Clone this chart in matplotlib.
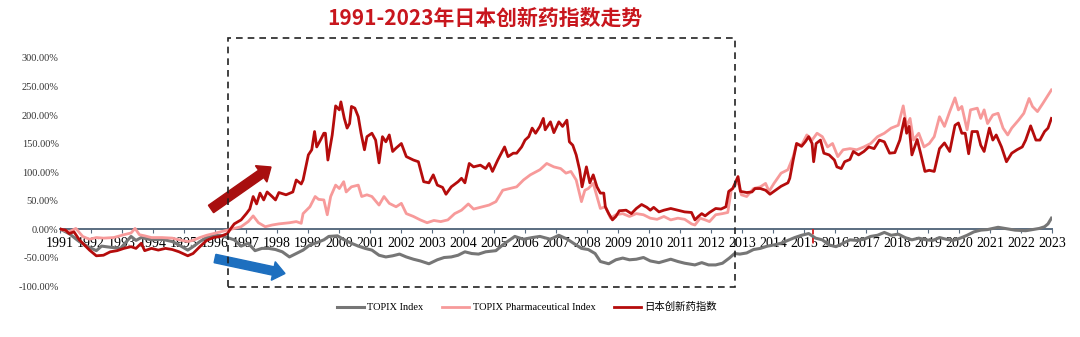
import numpy as np
import matplotlib
matplotlib.use("Agg")
import matplotlib.pyplot as plt
from matplotlib.patches import Rectangle, FancyArrow

plt.rcParams['font.family'] = ['Liberation Serif', 'Noto Sans CJK SC']

# 日本创新药指数 (累计涨跌幅, %)
drug_t = [1991.00, 1991.18, 1991.29, 1991.45, 1991.62, 1991.95, 1992.17, 1992.40, 1992.62, 1992.84,
          1993.06, 1993.29, 1993.45, 1993.62, 1993.73, 1993.95, 1994.17, 1994.40, 1994.62, 1994.84,
          1995.12, 1995.29, 1995.51, 1995.73, 1995.95, 1996.17, 1996.40, 1996.51, 1996.62, 1996.84,
          1997.01, 1997.12, 1997.23, 1997.34, 1997.45, 1997.57, 1997.68, 1997.84, 1997.95, 1998.06,
          1998.29, 1998.51, 1998.62, 1998.78, 1998.84, 1999.01, 1999.12, 1999.21, 1999.28, 1999.40,
          1999.51, 1999.56, 1999.64, 1999.78, 1999.89, 2000.01, 2000.06, 2000.17, 2000.26, 2000.34,
          2000.40, 2000.51, 2000.62, 2000.71, 2000.82, 2000.90, 2001.06, 2001.18, 2001.29, 2001.40,
          2001.51, 2001.62, 2001.73, 2001.84, 2002.01, 2002.17, 2002.40, 2002.56, 2002.73, 2002.90,
          2003.04, 2003.17, 2003.34, 2003.45, 2003.62, 2003.84, 2003.95, 2004.06, 2004.20, 2004.34,
          2004.56, 2004.73, 2004.84, 2004.95, 2005.12, 2005.34, 2005.45, 2005.62, 2005.73, 2005.89,
          2006.00, 2006.12, 2006.23, 2006.34, 2006.48, 2006.59, 2006.65, 2006.82, 2006.93, 2007.09,
          2007.21, 2007.35, 2007.43, 2007.54, 2007.65, 2007.76, 2007.84, 2007.98, 2008.09, 2008.20,
          2008.32, 2008.43, 2008.54, 2008.59, 2008.70, 2008.82, 2008.93, 2009.04, 2009.26, 2009.43,
          2009.59, 2009.76, 2009.93, 2010.04, 2010.15, 2010.32, 2010.48, 2010.70, 2010.93, 2011.15,
          2011.37, 2011.48, 2011.59, 2011.70, 2011.81, 2011.95, 2012.15, 2012.32, 2012.48, 2012.57,
          2012.70, 2012.87, 2012.95, 2013.15, 2013.32, 2013.42, 2013.59, 2013.76, 2013.90, 2014.03,
          2014.26, 2014.48, 2014.54, 2014.65, 2014.76, 2014.92, 2015.04, 2015.15, 2015.26, 2015.31,
          2015.39, 2015.53, 2015.64, 2015.81, 2015.98, 2016.06, 2016.20, 2016.31, 2016.48, 2016.59,
          2016.76, 2016.93, 2017.09, 2017.26, 2017.43, 2017.59, 2017.76, 2017.93, 2018.09, 2018.24,
          2018.31, 2018.39, 2018.48, 2018.65, 2018.76, 2018.90, 2019.04, 2019.20, 2019.37, 2019.53,
          2019.70, 2019.87, 2019.98, 2020.09, 2020.20, 2020.31, 2020.42, 2020.59, 2020.70, 2020.81,
          2020.98, 2021.09, 2021.20, 2021.37, 2021.53, 2021.70, 2021.87, 2022.04, 2022.15, 2022.31,
          2022.48, 2022.61, 2022.76, 2022.87, 2022.98]
drug_v = [0, -2, -8, -5, -19, -37, -47, -46, -40, -38,
          -34, -31, -34, -25, -38, -34, -37, -34, -36, -40,
          -47, -43, -31, -20, -15, -13, -8, 1, 9, 16,
          27, 35, 57, 44, 63, 51, 65, 57, 51, 64,
          60, 65, 86, 79, 86, 130, 139, 171, 144, 156,
          168, 168, 121, 165, 216, 209, 223, 194, 177, 185,
          215, 212, 197, 168, 139, 162, 168, 156, 116, 162,
          153, 165, 136, 142, 150, 127, 121, 118, 83, 81,
          95, 77, 73, 61, 74, 83, 89, 81, 115, 109,
          112, 106, 115, 101, 121, 144, 127, 133, 133, 144,
          156, 162, 177, 168, 180, 194, 174, 188, 169, 188,
          180, 191, 153, 147, 130, 104, 74, 109, 81, 95,
          74, 63, 63, 39, 27, 16, 22, 32, 33, 27,
          36, 43, 38, 33, 38, 30, 33, 36, 33, 30,
          29, 16, 22, 27, 23, 29, 36, 35, 39, 66,
          71, 92, 66, 64, 65, 71, 71, 68, 61, 66,
          75, 81, 89, 121, 150, 145, 153, 162, 150, 118,
          150, 156, 133, 130, 121, 109, 106, 118, 122, 136,
          130, 136, 144, 141, 156, 153, 133, 134, 156, 194,
          168, 180, 130, 157, 133, 101, 103, 101, 141, 151,
          136, 182, 186, 168, 168, 132, 171, 171, 147, 136,
          177, 156, 165, 144, 118, 133, 139, 144, 156, 181,
          156, 156, 171, 177, 194]

# TOPIX Pharmaceutical Index
pharma_t = [1991.00, 1991.29, 1991.51, 1991.73, 1991.95, 1992.17, 1992.40, 1992.73, 1993.06, 1993.29,
            1993.42, 1993.56, 1993.73, 1993.95, 1994.29, 1994.62, 1994.84, 1995.12, 1995.29, 1995.51,
            1995.73, 1995.95, 1996.17, 1996.40, 1996.62, 1996.84, 1997.07, 1997.23, 1997.40, 1997.62,
            1997.84, 1998.06, 1998.40, 1998.62, 1998.78, 1998.84, 1999.06, 1999.23, 1999.34, 1999.51,
            1999.62, 1999.73, 1999.89, 2000.01, 2000.15, 2000.23, 2000.40, 2000.62, 2000.73, 2000.90,
            2001.06, 2001.29, 2001.45, 2001.62, 2001.84, 2002.01, 2002.17, 2002.40, 2002.62, 2002.84,
            2003.06, 2003.28, 2003.51, 2003.73, 2003.95, 2004.17, 2004.34, 2004.62, 2004.84, 2005.06,
            2005.28, 2005.51, 2005.73, 2005.95, 2006.17, 2006.48, 2006.70, 2006.93, 2007.15, 2007.32,
            2007.48, 2007.65, 2007.82, 2007.93, 2008.04, 2008.20, 2008.32, 2008.43, 2008.59, 2008.76,
            2008.93, 2009.15, 2009.37, 2009.59, 2009.82, 2010.04, 2010.26, 2010.48, 2010.70, 2010.93,
            2011.15, 2011.37, 2011.48, 2011.65, 2011.81, 2011.95, 2012.15, 2012.37, 2012.54, 2012.65,
            2012.87, 2012.98, 2013.15, 2013.37, 2013.59, 2013.76, 2013.87, 2014.03, 2014.26, 2014.48,
            2014.65, 2014.76, 2014.92, 2015.09, 2015.26, 2015.42, 2015.59, 2015.76, 2015.92, 2016.09,
            2016.26, 2016.48, 2016.70, 2016.93, 2017.15, 2017.37, 2017.59, 2017.81, 2018.04, 2018.20,
            2018.31, 2018.42, 2018.53, 2018.70, 2018.87, 2019.04, 2019.20, 2019.37, 2019.53, 2019.70,
            2019.87, 2019.98, 2020.09, 2020.26, 2020.37, 2020.59, 2020.70, 2020.81, 2020.92, 2021.09,
            2021.26, 2021.42, 2021.57, 2021.70, 2021.92, 2022.09, 2022.26, 2022.37, 2022.53, 2022.70,
            2022.98]
pharma_v = [0, -5, 1, -13, -18, -15, -16, -15, -10, -7,
            1, -10, -12, -15, -15, -16, -19, -22, -20, -15,
            -11, -8, -5, -2, 1, 4, 13, 23, 11, 4,
            7, 9, 11, 13, 10, 27, 39, 57, 52, 51,
            25, 57, 77, 71, 83, 65, 74, 77, 57, 60,
            57, 42, 57, 45, 39, 45, 27, 22, 16, 11,
            15, 13, 16, 27, 33, 44, 35, 39, 42, 48,
            68, 71, 74, 86, 95, 104, 115, 109, 106, 98,
            101, 86, 48, 68, 71, 80, 57, 36, 39, 19,
            25, 27, 22, 27, 25, 19, 17, 22, 16, 19,
            17, 9, 7, 19, 16, 13, 25, 27, 29, 68,
            83, 60, 57, 71, 74, 80, 66, 80, 98, 104,
            127, 150, 147, 165, 156, 168, 162, 144, 150, 127,
            139, 141, 139, 144, 150, 162, 168, 177, 182, 216,
            180, 194, 156, 168, 144, 150, 162, 197, 180, 206,
            230, 209, 215, 174, 209, 212, 194, 209, 185, 200,
            203, 177, 165, 177, 191, 203, 229, 215, 206, 220,
            244]

# TOPIX Index
topix_t = [1991.00, 1991.29, 1991.62, 1991.90, 1992.17, 1992.34, 1992.62, 1992.95, 1993.29, 1993.45,
           1993.62, 1993.95, 1994.29, 1994.62, 1994.84, 1995.12, 1995.29, 1995.51, 1995.73, 1995.95,
           1996.17, 1996.40, 1996.62, 1996.84, 1997.07, 1997.29, 1997.51, 1997.73, 1997.95, 1998.17,
           1998.40, 1998.62, 1998.84, 1999.06, 1999.28, 1999.51, 1999.67, 1999.95, 2000.17, 2000.40,
           2000.62, 2000.84, 2001.06, 2001.29, 2001.51, 2001.73, 2001.95, 2002.17, 2002.40, 2002.62,
           2002.90, 2003.17, 2003.39, 2003.62, 2003.84, 2004.06, 2004.28, 2004.50, 2004.73, 2005.06,
           2005.28, 2005.51, 2005.67, 2005.95, 2006.23, 2006.48, 2006.82, 2007.09, 2007.37, 2007.59,
           2007.82, 2008.04, 2008.26, 2008.43, 2008.70, 2008.93, 2009.15, 2009.37, 2009.59, 2009.82,
           2010.04, 2010.32, 2010.70, 2010.93, 2011.15, 2011.48, 2011.70, 2011.92, 2012.15, 2012.37,
           2012.59, 2012.76, 2012.93, 2013.15, 2013.37, 2013.59, 2013.82, 2014.03, 2014.26, 2014.48,
           2014.70, 2014.92, 2015.15, 2015.37, 2015.59, 2015.81, 2016.03, 2016.26, 2016.48, 2016.70,
           2016.93, 2017.15, 2017.37, 2017.59, 2017.81, 2018.04, 2018.26, 2018.48, 2018.70, 2018.93,
           2019.15, 2019.37, 2019.59, 2019.81, 2020.04, 2020.26, 2020.48, 2020.70, 2020.92, 2021.26,
           2021.48, 2021.81, 2022.15, 2022.37, 2022.59, 2022.76, 2022.87, 2022.98]
topix_v = [0, -8, -22, -31, -38, -30, -32, -34, -13, -20,
           -15, -19, -18, -22, -28, -37, -31, -22, -15, -12,
           -11, -15, -19, -30, -25, -38, -34, -34, -36, -40,
           -49, -43, -37, -28, -24, -19, -13, -12, -19, -25,
           -30, -34, -37, -46, -49, -47, -44, -49, -53, -56,
           -61, -54, -50, -49, -46, -40, -43, -44, -40, -38,
           -28, -19, -13, -18, -15, -13, -18, -11, -18, -26,
           -34, -36, -43, -57, -61, -54, -51, -54, -53, -50,
           -56, -59, -53, -57, -60, -63, -59, -63, -63, -60,
           -51, -43, -44, -42, -36, -34, -30, -28, -25, -20,
           -15, -11, -8, -16, -19, -28, -31, -25, -19, -20,
           -18, -13, -11, -6, -11, -9, -15, -19, -16, -19,
           -20, -15, -18, -20, -16, -11, -5, -2, -1, 3,
           1, -2, -3, -1, 1, 4, 9, 19]

years = list(range(1991, 2024))
yticks = [-100, -50, 0, 50, 100, 150, 200, 250, 300]

fig = plt.figure(figsize=(10.8, 3.37), dpi=100)
ax = fig.add_axes([0.0556, 0.1513, 0.9185, 0.6766])

ax.plot(topix_t, topix_v, color='#767676', lw=2.2, label='TOPIX Index', zorder=3)
ax.plot(pharma_t, pharma_v, color='#f79a9a', lw=2.0, label='TOPIX Pharmaceutical Index', zorder=4)
ax.plot(drug_t, drug_v, color='#b50c0c', lw=2.0, label='日本创新药指数', zorder=5)

# 2015年附近的红色虚线标记
ax.plot([2015.3, 2015.3], [0, -32], color='#d42020', lw=1.3, ls=(0, (3, 2)), zorder=6)

ax.set_xlim(1991, 2023)
ax.set_ylim(-100, 300)
ax.set_xticks(years)
ax.set_xticklabels([str(y) for y in years], fontsize=7.5, color='#2a2a2a')
ax.set_yticks(yticks)
ax.set_yticklabels(['%.2f%%' % v for v in yticks], fontsize=7.5, color='#333333')

for s in ['top', 'right', 'left']:
    ax.spines[s].set_visible(False)
ax.spines['bottom'].set_position(('data', 0))
ax.spines['bottom'].set_color('#5a6d80')
ax.spines['bottom'].set_linewidth(1.4)
ax.spines['bottom'].set_zorder(2)
ax.tick_params(axis='x', length=3, width=0.8, color='#5a6d80', pad=3)
ax.tick_params(axis='y', length=0, pad=1)

fig.text(0.449, 0.945, '1991-2023年日本创新药指数走势', ha='center', va='center',
         fontsize=15, fontweight='bold', color='#c8161d', family=['Noto Sans CJK SC'])

# 虚线框 (单位: 英寸)
box = Rectangle((2.28, 0.50), 5.07, 2.49, transform=fig.dpi_scale_trans, fill=False,
                ls=(0, (4, 3)), lw=1.2, edgecolor='#222222', zorder=10)
fig.patches.append(box)

up = FancyArrow(2.11, 1.28, 0.60, 0.42, width=0.09, head_width=0.2, head_length=0.12,
                length_includes_head=True, color='#a80f0f', transform=fig.dpi_scale_trans)
down = FancyArrow(2.15, 0.785, 0.70, -0.15, width=0.085, head_width=0.19, head_length=0.12,
                  length_includes_head=True, color='#1d6fbf', transform=fig.dpi_scale_trans)
fig.patches.append(up)
fig.patches.append(down)

fig.legend(loc='center', bbox_to_anchor=(0.488, 0.088), ncol=3, frameon=False,
           fontsize=7.5, handlelength=2.6, columnspacing=1.8, handletextpad=0.3)

fig.savefig('out.png', dpi=100)
